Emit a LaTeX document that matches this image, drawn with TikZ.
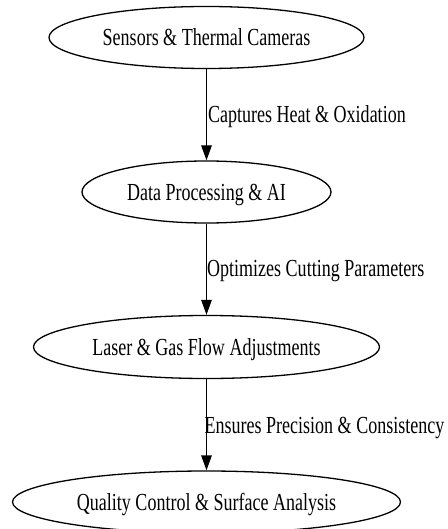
\documentclass[tikz,border=0pt]{standalone}
\usepackage{fontspec}
\setmainfont{Liberation Serif}[FakeStretch=0.735]
\usetikzlibrary{shapes.geometric,arrows.meta}
\tikzset{
  stage/.style={ellipse, draw=black, line width=1.3pt, inner sep=0pt,
    font=\fontsize{24.5}{29}\selectfont, text height=16.2pt, text depth=0pt},
  flow/.style={draw=black, line width=1.3pt, -{Triangle[length=15pt,width=10.5pt]}},
  flowlabel/.style={anchor=base west, inner sep=0pt, font=\fontsize{24.5}{29}\selectfont}
}
\begin{document}
\begin{tikzpicture}[x=1pt,y=-1pt]
\useasboundingbox (0,0) rectangle (447,529);
\node[stage, minimum width=315pt, minimum height=62pt] (s1) at (206.5,37.5) {Sensors \& Thermal Cameras};
\node[stage, minimum width=249pt, minimum height=62pt] (s2) at (206.5,192) {Data Processing \& AI};
\node[stage, minimum width=346pt, minimum height=63pt] (s3) at (206.5,347) {Laser \& Gas Flow Adjustments};
\node[stage, minimum width=388pt, minimum height=62pt] (s4) at (206.5,502) {Quality Control \& Surface Analysis};
\draw[flow] (s1.south) -- (s2.north);
\draw[flow] (s2.south) -- (s3.north);
\draw[flow] (s3.south) -- (s4.north);
\node[flowlabel] (l1) at (208,122.7) {Captures Heat \& Oxidation};
\node[flowlabel] (l2) at (207,276) {Optimizes Cutting Parameters};
\node[flowlabel] (l3) at (204.5,433) {Ensures Precision \& Consistency};
\end{tikzpicture}
\end{document}
